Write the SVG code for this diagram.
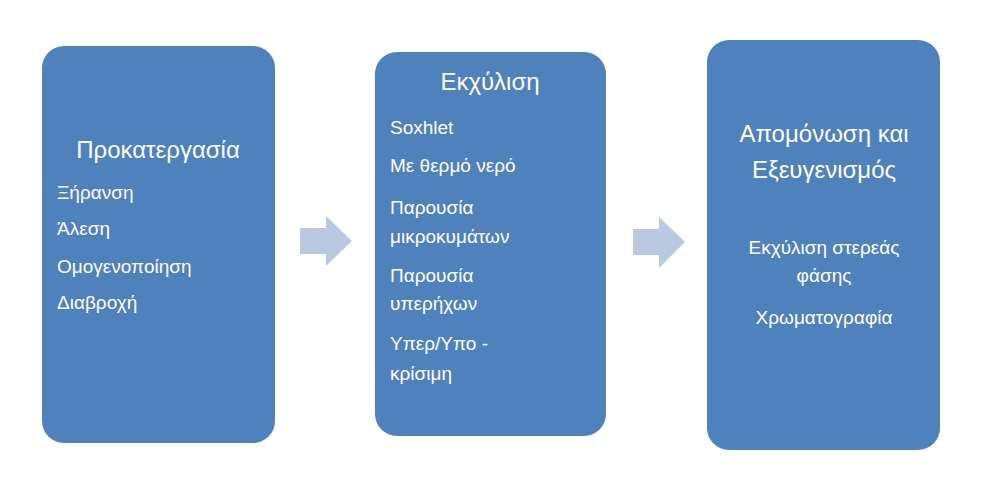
<svg xmlns="http://www.w3.org/2000/svg" width="985" height="481" viewBox="0 0 985 481">
<style>
.box{fill:#4f81bd}
.arr{fill:#b9c9e2}
text{fill:#fff;font-family:"Liberation Sans",Arial,sans-serif}
.t{font-size:24px;text-anchor:middle}
.i{font-size:19px}
.c{font-size:19px;text-anchor:middle}
</style>
<rect width="985" height="481" fill="#fff"/>
<g id="n1"><rect class="box" x="42" y="46" width="233" height="397" rx="22"/>
<text class="t" x="158" y="158">Προκατεργασία</text>
<text class="i" x="57" y="199">Ξήρανση</text>
<text class="i" x="57" y="235">Άλεση</text>
<text class="i" x="57" y="273">Ομογενοποίηση</text>
<text class="i" x="57" y="309">Διαβροχή</text></g>
<g id="n2"><rect class="box" x="375" y="52" width="231" height="384" rx="22"/>
<text class="t" x="490" y="90">Εκχύλιση</text>
<text class="i" x="390" y="134">Soxhlet</text>
<text class="i" x="390" y="172">Με θερμό νερό</text>
<text class="i" x="390" y="214">Παρουσία</text>
<text class="i" x="390" y="243">μικροκυμάτων</text>
<text class="i" x="390" y="282">Παρουσία</text>
<text class="i" x="390" y="310">υπερήχων</text>
<text class="i" x="390" y="350">Υπερ/Υπο -</text>
<text class="i" x="390" y="380">κρίσιμη</text></g>
<g id="n3"><rect class="box" x="707" y="40" width="233" height="410" rx="22"/>
<text class="t" x="824" y="142">Απομόνωση και</text>
<text class="t" x="824" y="178">Εξευγενισμός</text>
<text class="c" x="824" y="254">Εκχύλιση στερεάς</text>
<text class="c" x="824" y="282">φάσης</text>
<text class="c" x="824" y="324">Χρωματογραφία</text></g>
<g id="connectors">
<polygon class="arr" points="300,228 326,228 326,216 352,241 326,266 326,254 300,254"/>
<polygon class="arr" points="633,229 659,229 659,217 685,242 659,268 659,255 633,255"/>
</g>
</svg>
